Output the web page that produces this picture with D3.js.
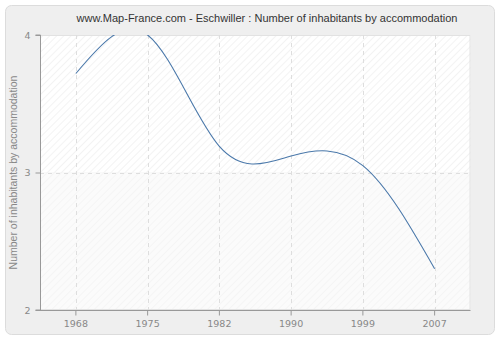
<!DOCTYPE html>
<html><head><meta charset="utf-8">
<script src="https://cdn.jsdelivr.net/npm/d3@7"></script>
<style>html,body{margin:0;padding:0;background:#fff}svg{display:block}</style>
</head><body>
<svg id="c" width="500" height="340"></svg>
<script>
const years = ["1968","1975","1982","1990","1999","2007"];
const values = [3.72, 4.0, 3.19, 3.12, 3.05, 2.3];
const yTicks = [2, 3, 4];
const title = "www.Map-France.com - Eschwiller : Number of inhabitants by accommodation";
const yTitle = "Number of inhabitants by accommodation";

const svg = d3.select("#c");
const W = 500, H = 340;
const m = {l: 40, r: 29.5, t: 35, b: 30};
const pw = W - m.l - m.r, ph = H - m.t - m.b;

const defs = svg.append("defs");
function hatch(id, bg, line) {
  const p = defs.append("pattern").attr("id", id).attr("patternUnits", "userSpaceOnUse")
    .attr("width", 5).attr("height", 5).attr("patternTransform", "rotate(45)");
  p.append("rect").attr("width", 5).attr("height", 5).attr("fill", bg);
  p.append("line").attr("x1", 0).attr("y1", 0).attr("x2", 0).attr("y2", 5).attr("stroke", line).attr("stroke-width", 1.2);
}
hatch("h1", "#ffffff", "#ebebeb");
hatch("h2", "#fbfbfb", "#f1f1f1");
defs.append("clipPath").attr("id", "clip").append("rect")
  .attr("x", m.l).attr("y", m.t).attr("width", pw).attr("height", ph);

svg.append("rect").attr("x", 5.5).attr("y", 5.5).attr("width", 489).attr("height", 329)
  .attr("rx", 6).attr("fill", "#efefef").attr("stroke", "#dcdcdc");

const x = d3.scaleBand().domain(years).range([m.l, m.l + pw]);
const y = d3.scaleLinear().domain([2, 4]).range([m.t + ph, m.t]);
const cx = d => x(d) + x.bandwidth() / 2;

svg.append("rect").attr("x", m.l).attr("y", y(4)).attr("width", pw).attr("height", y(3) - y(4)).attr("fill", "url(#h1)");
svg.append("rect").attr("x", m.l).attr("y", y(3)).attr("width", pw).attr("height", y(2) - y(3)).attr("fill", "url(#h2)");
svg.append("rect").attr("x", m.l + 0.5).attr("y", m.t + 0.5).attr("width", pw - 1).attr("height", ph - 1)
  .attr("fill", "none").attr("stroke", "#e2e2e2");

const g = svg.append("g");
years.forEach(d => {
  g.append("line").attr("x1", Math.round(cx(d)) + 0.5).attr("x2", Math.round(cx(d)) + 0.5)
    .attr("y1", m.t).attr("y2", m.t + ph).attr("stroke", "#dedede").attr("stroke-dasharray", "4,4");
});
yTicks.slice(1, -1).forEach(v => {
  g.append("line").attr("x1", m.l).attr("x2", m.l + pw).attr("y1", Math.round(y(v)) + 0.5).attr("y2", Math.round(y(v)) + 0.5)
    .attr("stroke", "#dedede").attr("stroke-dasharray", "4,4");
});

const line = d3.line().x((d, i) => cx(years[i])).y(d => y(d)).curve(d3.curveNatural);
svg.append("path").datum(values).attr("d", line).attr("fill", "none")
  .attr("stroke", "#4a78aa").attr("stroke-width", 1.1).attr("clip-path", "url(#clip)");

const yAxis = svg.append("g").attr("transform", `translate(${m.l + 0.5},0)`)
  .call(d3.axisLeft(y).tickValues(yTicks).tickFormat(d3.format("d")).tickSize(5).tickPadding(5));
const xAxis = svg.append("g").attr("transform", `translate(0,${m.t + ph + 0.5})`)
  .call(d3.axisBottom(x).tickSize(5).tickPadding(5));
[yAxis, xAxis].forEach(a => {
  a.select(".domain").attr("stroke", "#999");
  a.selectAll(".tick line").attr("stroke", "#999");
  a.selectAll("text").attr("fill", "#888").style("font-family", "DejaVu Sans, sans-serif").style("font-size", "9.5px");
});
yAxis.select(".domain").attr("d", `M-5,${y(2)}H0V${y(4)}H-5`);
xAxis.select(".domain").attr("d", `M${m.l},0H${m.l + pw}`);

svg.append("text").attr("x", 267).attr("y", 22).attr("text-anchor", "middle")
  .style("font-family", "Liberation Sans, Arial, sans-serif").style("font-size", "11px").attr("fill", "#333").text(title);
svg.append("text").attr("transform", `translate(17,${m.t + ph / 2}) rotate(-90)`).attr("text-anchor", "middle")
  .style("font-family", "Liberation Sans, Arial, sans-serif").style("font-size", "10.5px").attr("fill", "#888").text(yTitle);
</script>
</body></html>
